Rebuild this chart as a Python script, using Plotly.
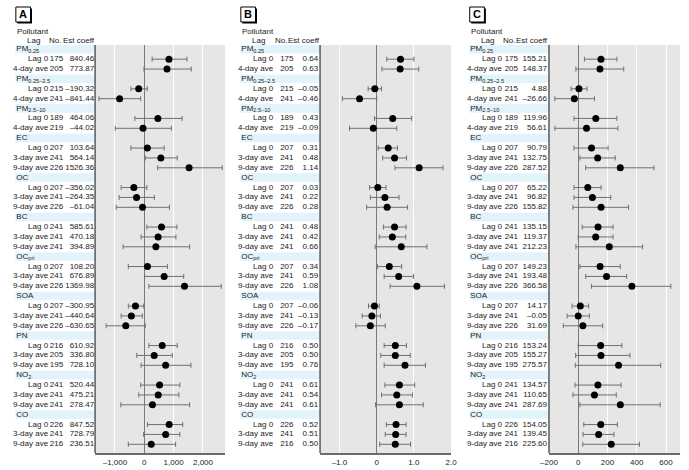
import plotly.graph_objects as go

W, H = 689, 470

# ---------------- data ----------------
groups = ["PM<sub>0.25</sub>", "PM<sub>0.25–2.5</sub>", "PM<sub>2.5–10</sub>", "EC", "OC", "BC",
          "OC<sub>pri</sub>", "SOA", "PN", "NO<sub>2</sub>", "CO"]
group_lags = [
    ["Lag 0", "4-day ave"], ["Lag 0", "4-day ave"], ["Lag 0", "4-day ave"],
    ["Lag 0", "3-day ave", "9-day ave"], ["Lag 0", "3-day ave", "9-day ave"],
    ["Lag 0", "3-day ave", "9-day ave"], ["Lag 0", "3-day ave", "9-day ave"],
    ["Lag 0", "3-day ave", "9-day ave"], ["Lag 0", "3-day ave", "9-day ave"],
    ["Lag 0", "3-day ave", "9-day ave"], ["Lag 0", "3-day ave", "9-day ave"],
]
n_obs = [175, 205, 215, 241, 189, 219, 207, 241, 226, 207, 241, 226, 241, 241, 241,
         207, 241, 226, 207, 241, 226, 216, 205, 195, 241, 241, 241, 226, 241, 216]

A_est = [840.46, 773.87, -190.32, -841.44, 464.06, -44.02, 103.64, 564.14, 1526.36,
         -356.02, -264.35, -61.04, 585.61, 470.18, 394.89, 108.20, 676.89, 1369.98,
         -300.95, -440.64, -630.65, 610.92, 336.80, 728.10, 520.44, 475.21, 278.47,
         847.52, 728.79, 236.51]
A_lo = [267, -11, -456, -1544, -322, -989, -456, 33, 456, -789, -856, -956, 89, -111, -722,
        -544, 11, 156, -544, -789, -1300, 156, -256, -111, -122, -189, -800, 111, -22, -544]
A_hi = [1456, 1600, 100, -122, 1289, 922, 678, 1122, 2656, 89, 344, 856, 1111, 1078, 1544,
        789, 1344, 2622, -22, -67, 33, 1122, 956, 1589, 1211, 1178, 1544, 1311, 1211, 1067]

B_est = [0.64, 0.63, -0.05, -0.46, 0.43, -0.09, 0.31, 0.48, 1.14, 0.03, 0.22, 0.28,
         0.48, 0.42, 0.66, 0.34, 0.59, 1.08, -0.06, -0.13, -0.17, 0.50, 0.50, 0.76,
         0.61, 0.54, 0.61, 0.52, 0.51, 0.50]
B_lo = [0.27, 0.14, -0.23, -0.92, -0.06, -0.73, 0.04, 0.16, 0.49, -0.19, -0.17, -0.27,
        0.18, 0.07, -0.04, 0.02, 0.20, 0.36, -0.22, -0.39, -0.56, 0.20, 0.11, 0.20,
        0.22, 0.13, -0.03, 0.26, 0.23, 0.08]
B_hi = [1.00, 1.13, 0.13, 0.00, 0.94, 0.54, 0.56, 0.80, 1.78, 0.25, 0.60, 0.83,
        0.79, 0.78, 1.35, 0.67, 0.99, 1.82, 0.07, 0.10, 0.23, 0.80, 0.90, 1.31,
        1.02, 0.96, 1.25, 0.79, 0.79, 0.91]

C_est = [155.21, 148.37, 4.88, -26.66, 119.96, 56.61, 90.79, 132.75, 287.52, 65.22,
         96.82, 155.82, 135.15, 119.37, 212.23, 149.23, 193.48, 366.58, 14.17, -0.05,
         31.69, 153.24, 155.27, 275.57, 134.57, 110.65, 287.69, 154.05, 139.45, 225.60]
C_lo = [42, -16, -49, -160, -29, -160, -29, 11, 51, -29, -29, -36, 27, 0, -16, 11, 51, 91,
        -42, -76, -102, 0, -18, -20, -22, -36, 11, 38, 33, 31]
C_hi = [264, 311, 60, 111, 264, 271, 204, 253, 518, 156, 222, 344, 238, 238, 440, 287, 331,
        633, 71, 76, 167, 298, 353, 564, 293, 260, 560, 267, 244, 418]

panel_letters = ["A", "B", "C"]
tick_vals = [[-1000, 0, 1000, 2000], [-1, 0, 1, 2], [-200, 0, 200, 400, 600]]
tick_text = [["–1,000", "0", "1,000", "2,000"], ["–1.0", "0", "1.0", "2.0"],
             ["–200", "0", "200", "400", "600"]]
x_ranges = [[-1677, 2757], [-1.52, 2.0], [-200, 696]]
header_labels = ["Pollutant", "Lag", "No.", "Est coeff"]

# ---------------- layout geometry (pixels) ----------------
FONT = "Liberation Sans, Arial, sans-serif"
FS = 8
TXT = "#222222"
offsets = [0, 230, 464]
plot_x = [(88, 221), (318, 452), (552, 686)]
no_center = [48.5, 284, 513.5]
no_head = [47, 278, 511.5]
est_right = [87, 316, 550]
plot_top, plot_bot = 45, 453

header_rows, data_rows, lag_labels = [], [], []
r = 0
for g, lags in zip(groups, group_lags):
    header_rows.append(r)
    r += 1
    for lg in lags:
        data_rows.append(r)
        lag_labels.append(lg)
        r += 1
row0_px, row_h = 49.3, 9.875
y_top = (plot_top - row0_px) / row_h
y_bot = (plot_bot - row0_px) / row_h


def fmt(v, d=2):
    return f"{v:.{d}f}".replace("-", "–")


fig = go.Figure()
ests = [A_est, B_est, C_est]
los = [A_lo, B_lo, C_lo]
his = [A_hi, B_hi, C_hi]
axes = ["x", "x2", "x3"]
tf = dict(family=FONT, size=FS, color=TXT)

for p in range(3):
    est, lo, hi = ests[p], los[p], his[p]
    fig.add_trace(go.Scatter(
        x=est, y=data_rows, xaxis=axes[p], yaxis="y", mode="markers",
        marker=dict(color="black", size=7),
        error_x=dict(type="data", symmetric=False,
                     array=[h - e for h, e in zip(hi, est)],
                     arrayminus=[e - l for e, l in zip(est, lo)],
                     color="#707070", thickness=1, width=2.5),
        cliponaxis=False, hoverinfo="skip"))

    off = offsets[p]
    fig.add_trace(go.Scatter(x=[off + 7.5] * len(groups), y=header_rows, text=groups,
                             mode="text", textposition="middle right", textfont=tf,
                             xaxis="x4", yaxis="y", cliponaxis=False, hoverinfo="skip"))
    fig.add_trace(go.Scatter(x=[off + 40] * len(data_rows), y=data_rows, text=lag_labels,
                             mode="text", textposition="middle left", textfont=tf,
                             xaxis="x4", yaxis="y", cliponaxis=False, hoverinfo="skip"))
    fig.add_trace(go.Scatter(x=[no_center[p]] * len(data_rows), y=data_rows,
                             text=[str(v) for v in n_obs],
                             mode="text", textposition="middle center", textfont=tf,
                             xaxis="x4", yaxis="y", cliponaxis=False, hoverinfo="skip"))
    fig.add_trace(go.Scatter(x=[est_right[p]] * len(data_rows), y=data_rows,
                             text=[fmt(v) for v in est],
                             mode="text", textposition="middle left", textfont=tf,
                             xaxis="x4", yaxis="y", cliponaxis=False, hoverinfo="skip"))

layout = dict(
    width=W, height=H, margin=dict(l=0, r=0, t=0, b=0),
    paper_bgcolor="white", plot_bgcolor="rgba(0,0,0,0)", showlegend=False,
    yaxis=dict(domain=[(H - plot_bot) / H, (H - plot_top) / H], range=[y_bot, y_top],
               visible=False, anchor="x", fixedrange=True),
    xaxis4=dict(domain=[0, 1], range=[0, W], visible=False, anchor="y", fixedrange=True),
)
shapes = []
annotations = []
for p in range(3):
    key = "xaxis" if p == 0 else f"xaxis{p + 1}"
    x0, x1 = plot_x[p]
    layout[key] = dict(
        domain=[x0 / W, x1 / W], range=x_ranges[p], anchor="y",
        tickvals=tick_vals[p], ticktext=tick_text[p], ticks="",
        tickfont=dict(family=FONT, size=FS, color=TXT),
        showgrid=True, gridcolor="white", gridwidth=1,
        zeroline=True, zerolinecolor="#7a7a7a", zerolinewidth=1,
        showline=True, linecolor="#6a6a6a", linewidth=2, fixedrange=True)
    xd = "x domain" if p == 0 else f"x{p + 1} domain"
    shapes.append(dict(type="rect", xref=xd, yref="y domain", x0=0, x1=1, y0=0, y1=1,
                       fillcolor="#e6e6e6", line=dict(width=0), layer="below"))
    shapes.append(dict(type="line", xref=xd, yref="y domain", x0=0, x1=0, y0=0, y1=1,
                       line=dict(color="#5a5a5a", width=1.5), layer="above"))
    off = offsets[p]
    for hr in header_rows:
        shapes.append(dict(type="rect", xref="x4", yref="y", x0=off + 6.5, x1=x0,
                           y0=hr - 0.45, y1=hr + 0.42, fillcolor="#e3f3fb",
                           line=dict(width=0), layer="below"))
    hx = [off + 7.5, off + 25.5, no_head[p], off + 88.5]
    hy = [31, 40, 40, 40]
    ha = ["left", "center", "center", "right"]
    for t, xx, yy, a in zip(header_labels, hx, hy, ha):
        annotations.append(dict(x=xx, y=1 - yy / H, xref="x4", yref="paper", text=t,
                                showarrow=False, xanchor=a, yanchor="middle",
                                borderpad=0, font=tf))
    bx0, by0, bs = off + 7, 7, 15
    shapes.append(dict(type="rect", xref="paper", yref="paper",
                       x0=(bx0 + 1.5) / W, x1=(bx0 + bs + 1.5) / W,
                       y0=1 - (by0 + bs + 1.5) / H, y1=1 - (by0 + 1.5) / H,
                       fillcolor="black", line=dict(width=0)))
    shapes.append(dict(type="rect", xref="paper", yref="paper",
                       x0=bx0 / W, x1=(bx0 + bs) / W,
                       y0=1 - (by0 + bs) / H, y1=1 - by0 / H,
                       fillcolor="white", line=dict(color="black", width=1)))
    annotations.append(dict(x=(bx0 + bs / 2) / W, y=1 - (by0 + bs / 2) / H, xref="paper",
                            yref="paper", text="<b>%s</b>" % panel_letters[p], showarrow=False,
                            xanchor="center", yanchor="middle", borderpad=0,
                            font=dict(family=FONT, size=11, color="black")))

layout["shapes"] = shapes
layout["annotations"] = annotations
fig.update_layout(**layout)
fig.write_html("out.html", config={"displayModeBar": False, "staticPlot": True},
               post_script="document.body.style.margin='0';document.body.style.padding='0';")
